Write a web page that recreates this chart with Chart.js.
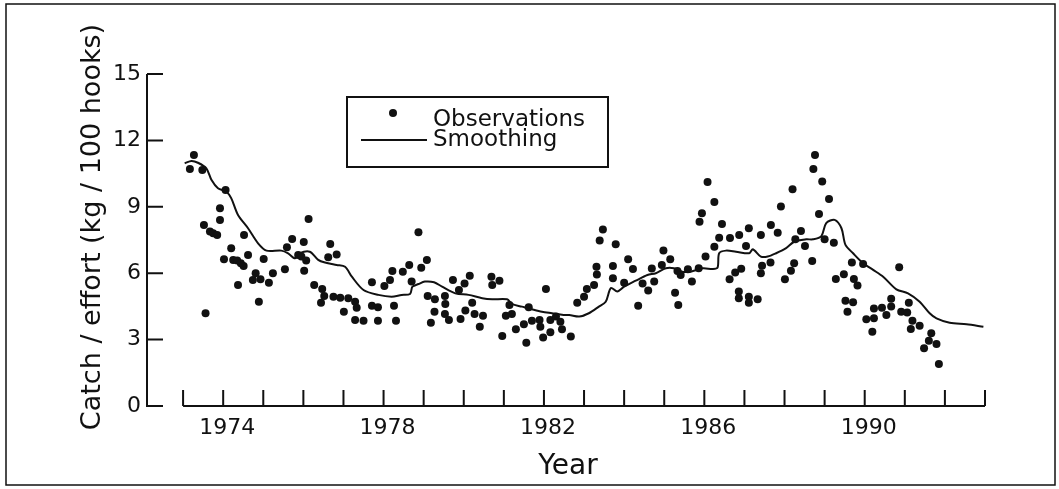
<!DOCTYPE html>
<html>
<head>
<meta charset="utf-8">
<title>Catch / effort</title>
<script src="https://cdn.jsdelivr.net/npm/chart.js@4/dist/chart.umd.min.js"></script>
<style>
  html, body { margin: 0; padding: 0; background: #fff; }
  #wrap { width: 1059px; height: 489px; }
</style>
</head>
<body>
<div id="wrap"><canvas id="cpue" width="1059" height="489"></canvas></div>
<script>
// Observations (year, kg / 100 hooks)
const obsYear = [
  1973.17, 1973.27, 1973.48, 1973.52, 1973.56, 1973.67, 1973.75, 1973.85, 1973.92, 1973.92,
  1974.02, 1974.06, 1974.20, 1974.25, 1974.35, 1974.37, 1974.44, 1974.51, 1974.52, 1974.62,
  1974.74, 1974.81, 1974.89, 1974.93, 1975.01, 1975.14, 1975.24, 1975.54, 1975.59, 1975.72,
  1975.87, 1975.95, 1976.01, 1976.02, 1976.07, 1976.13, 1976.27, 1976.44, 1976.47, 1976.52,
  1976.62, 1976.67, 1976.75, 1976.83, 1976.92, 1977.01, 1977.12, 1977.29, 1977.33, 1977.29,
  1977.50, 1977.71, 1977.71, 1977.86, 1977.86, 1978.02, 1978.16, 1978.22, 1978.26, 1978.31,
  1978.48, 1978.64, 1978.70, 1978.87, 1978.94, 1979.08, 1979.10, 1979.18, 1979.27, 1979.28,
  1979.53, 1979.54, 1979.53, 1979.63, 1979.73, 1979.88, 1979.92, 1980.02, 1980.04, 1980.15,
  1980.21, 1980.27, 1980.40, 1980.48, 1980.69, 1980.71, 1980.89, 1980.96, 1981.05, 1981.14,
  1981.20, 1981.30, 1981.50, 1981.56, 1981.62, 1981.70, 1981.89, 1981.91, 1981.98, 1982.05,
  1982.16, 1982.16, 1982.30, 1982.41, 1982.45, 1982.67, 1982.83, 1983.00, 1983.07, 1983.25,
  1983.31, 1983.32, 1983.39, 1983.47, 1983.72, 1983.72, 1983.79, 1984.00, 1984.10, 1984.22,
  1984.35, 1984.46, 1984.60, 1984.69, 1984.75, 1984.94, 1984.98, 1985.15, 1985.27, 1985.35,
  1985.33, 1985.41, 1985.59, 1985.69, 1985.86, 1985.88, 1985.94, 1986.03, 1986.08, 1986.25,
  1986.25, 1986.37, 1986.44, 1986.63, 1986.64, 1986.77, 1986.86, 1986.86, 1986.87, 1986.92,
  1987.04, 1987.11, 1987.11, 1987.11, 1987.33, 1987.41, 1987.44, 1987.41, 1987.65, 1987.66,
  1987.83, 1987.91, 1988.01, 1988.16, 1988.20, 1988.24, 1988.27, 1988.41, 1988.51, 1988.69,
  1988.72, 1988.76, 1988.86, 1988.94, 1989.00, 1989.11, 1989.23, 1989.28, 1989.48, 1989.52,
  1989.57, 1989.68, 1989.71, 1989.73, 1989.82, 1989.96, 1990.04, 1990.19, 1990.23, 1990.23,
  1990.43, 1990.54, 1990.66, 1990.66, 1990.86, 1990.91, 1991.06, 1991.10, 1991.15, 1991.19,
  1991.37, 1991.48, 1991.60, 1991.66, 1991.79, 1991.85
];
const obsValue = [
  10.71, 11.34, 10.66, 8.18, 4.19, 7.88, 7.80, 7.73, 8.93, 8.40,
  6.63, 9.76, 7.13, 6.60, 6.57, 5.47, 6.45, 6.33, 7.73, 6.82,
  5.69, 6.00, 4.71, 5.73, 6.64, 5.57, 6.00, 6.18, 7.17, 7.55,
  6.82, 6.75, 7.41, 6.11, 6.57, 8.45, 5.47, 4.67, 5.29, 4.97,
  6.72, 7.32, 4.94, 6.85, 4.89, 4.26, 4.87, 4.71, 4.44, 3.89,
  3.85, 5.59, 4.53, 4.46, 3.85, 5.42, 5.69, 6.10, 4.53, 3.85,
  6.06, 6.37, 5.62, 7.85, 6.25, 6.60, 4.97, 3.76, 4.26, 4.82,
  4.97, 4.61, 4.16, 3.89, 5.69, 5.24, 3.93, 5.54, 4.31, 5.89,
  4.67, 4.16, 3.58, 4.08, 5.84, 5.47, 5.66, 3.16, 4.08, 4.56,
  4.16, 3.47, 3.69, 2.86, 4.46, 3.85, 3.89, 3.58, 3.10, 5.29,
  3.33, 3.89, 4.04, 3.81, 3.47, 3.14, 4.67, 4.94, 5.29, 5.47,
  6.29, 5.94, 7.48, 7.98, 6.33, 5.77, 7.31, 5.57, 6.63, 6.19,
  4.53, 5.54, 5.22, 6.21, 5.62, 6.37, 7.02, 6.63, 5.12, 4.56,
  6.10, 5.92, 6.18, 5.63, 6.22, 8.33, 8.71, 6.76, 10.12, 9.22,
  7.20, 7.60, 8.22, 5.73, 7.59, 6.03, 5.17, 4.87, 7.73, 6.20,
  7.23, 4.94, 4.67, 8.03, 4.82, 7.73, 6.34, 6.00, 6.48, 8.18,
  7.83, 9.01, 5.73, 6.11, 9.79, 6.45, 7.53, 7.91, 7.23, 6.55,
  10.71, 11.34, 8.68, 10.14, 7.53, 9.35, 7.38, 5.74, 5.95, 4.76,
  4.26, 6.48, 4.69, 5.74, 5.44, 6.42, 3.92, 3.36, 4.41, 3.96,
  4.44, 4.11, 4.84, 4.49, 6.27, 4.26, 4.23, 4.67, 3.48, 3.85,
  3.63, 2.61, 2.95, 3.29, 2.80, 1.90
];

// Smoothing curve
const smoothYear = [
  1973.04, 1973.21, 1973.37, 1973.58, 1973.71, 1973.87, 1974.08, 1974.20, 1974.37, 1974.62,
  1974.87, 1975.08, 1975.45, 1975.62, 1975.79, 1975.91, 1976.16, 1976.37, 1976.54, 1976.83,
  1977.04, 1977.21, 1977.50, 1977.87, 1978.20, 1978.45, 1978.66, 1978.72, 1978.87, 1979.03,
  1979.26, 1979.46, 1979.79, 1980.12, 1980.46, 1980.71, 1981.08, 1981.20, 1981.45, 1981.70,
  1981.95, 1982.20, 1982.49, 1982.63, 1982.88, 1983.12, 1983.37, 1983.54, 1983.67, 1983.83,
  1984.00, 1984.29, 1984.58, 1984.79, 1985.04, 1985.24, 1985.45, 1985.66, 1985.96, 1986.21,
  1986.33, 1986.37, 1986.54, 1986.79, 1987.12, 1987.21, 1987.41, 1987.58, 1987.79, 1988.04,
  1988.24, 1988.54, 1988.71, 1988.92, 1989.04, 1989.25, 1989.42, 1989.52, 1989.71, 1989.96,
  1990.21, 1990.46, 1990.79, 1991.08, 1991.37, 1991.62, 1991.79, 1992.12, 1992.54, 1992.96
];
const smoothValue = [
  10.97, 11.07, 10.99, 10.74, 10.21, 9.84, 9.68, 9.39, 8.63, 8.03,
  7.35, 7.02, 7.02, 6.90, 6.67, 6.90, 6.97, 6.60, 6.48, 6.37,
  6.29, 5.84, 5.24, 5.02, 4.94, 5.02, 5.06, 5.39, 5.51, 5.62,
  5.59, 5.39, 5.09, 5.02, 4.87, 4.82, 4.82, 4.61, 4.49, 4.37,
  4.26, 4.19, 4.11, 4.11, 4.04, 4.19, 4.49, 4.71, 5.33, 5.17,
  5.39, 5.66, 5.92, 6.00, 6.22, 6.22, 6.07, 6.07, 6.22, 6.19,
  6.25, 6.90, 7.02, 6.97, 6.90, 7.08, 6.75, 6.75, 6.90, 7.13,
  7.42, 7.53, 7.53, 7.68, 8.26, 8.41, 8.03, 7.28, 6.90, 6.45,
  6.15, 5.84, 5.27, 5.09, 4.71, 4.19, 3.96, 3.76, 3.69, 3.58
];

// axes
const yTicks = [0, 3, 6, 9, 12, 15];
const xTickYears = [1973, 1974, 1975, 1976, 1977, 1978, 1979, 1980, 1981, 1982, 1983,
  1984, 1985, 1986, 1987, 1988, 1989, 1990, 1991, 1992, 1993];
const xLabelYears = [1974, 1978, 1982, 1986, 1990];
const yTitle = 'Catch / effort (kg / 100 hooks)';
const xTitle = 'Year';
const legendLabels = ['Observations', 'Smoothing'];

const ink = '#111';
Chart.defaults.font.family = '"DejaVu Sans", sans-serif';
Chart.defaults.color = ink;

// axis lines with inward ticks, titles, framed legend and the figure border
const figureFrame = {
  id: 'figureFrame',
  afterDraw(chart) {
    const { ctx, chartArea: a, scales: { x, y } } = chart;
    ctx.save();
    ctx.strokeStyle = ink;
    ctx.fillStyle = ink;
    ctx.lineCap = 'butt';

    ctx.lineWidth = 1.5;
    ctx.strokeRect(6, 4, 1049, 481);

    ctx.lineWidth = 2;
    ctx.beginPath();
    ctx.moveTo(a.left, y.getPixelForValue(yTicks[yTicks.length - 1]));
    ctx.lineTo(a.left, y.getPixelForValue(0) + 1);
    yTicks.forEach(v => {
      const py = y.getPixelForValue(v);
      ctx.moveTo(a.left, py);
      ctx.lineTo(a.left + 16, py);
    });
    const by = y.getPixelForValue(0);
    ctx.moveTo(x.getPixelForValue(xTickYears[0]), by);
    ctx.lineTo(x.getPixelForValue(xTickYears[xTickYears.length - 1]), by);
    xTickYears.forEach(v => {
      const px = x.getPixelForValue(v);
      ctx.moveTo(px, by);
      ctx.lineTo(px, by - 16);
    });
    ctx.stroke();

    // titles
    ctx.font = '27px "DejaVu Sans"';
    ctx.textAlign = 'center';
    ctx.textBaseline = 'alphabetic';
    ctx.save();
    ctx.translate(100, 227);
    ctx.rotate(-Math.PI / 2);
    ctx.fillText(yTitle, 0, 0);
    ctx.restore();
    ctx.font = '28px "DejaVu Sans"';
    ctx.fillText(xTitle, 568, 474);

    // legend
    ctx.lineWidth = 2;
    ctx.strokeRect(347, 97, 261, 70);
    ctx.beginPath();
    ctx.arc(393, 113, 4, 0, Math.PI * 2);
    ctx.fill();
    ctx.beginPath();
    ctx.moveTo(361, 140);
    ctx.lineTo(427, 140);
    ctx.stroke();
    ctx.font = '23px "DejaVu Sans"';
    ctx.textAlign = 'left';
    ctx.fillText(legendLabels[0], 433, 126);
    ctx.fillText(legendLabels[1], 433, 146);
    ctx.restore();
  }
};

new Chart(document.getElementById('cpue'), {
  type: 'scatter',
  data: {
    datasets: [
      {
        label: legendLabels[0],
        data: obsYear.map((yr, i) => ({ x: yr, y: obsValue[i] })),
        pointRadius: 4,
        pointBackgroundColor: ink,
        pointBorderWidth: 0
      },
      {
        label: legendLabels[1],
        data: smoothYear.map((yr, i) => ({ x: yr, y: smoothValue[i] })),
        showLine: true,
        pointRadius: 0,
        borderColor: ink,
        borderWidth: 2,
        tension: 0.3
      }
    ]
  },
  options: {
    responsive: false,
    animation: false,
    layout: { padding: { top: 74, right: 74, left: 0, bottom: 0 } },
    plugins: { legend: { display: false }, tooltip: { enabled: false } },
    scales: {
      x: {
        type: 'linear',
        min: 1972.1,
        max: 1993,
        afterFit: s => { s.height = 83; },
        afterBuildTicks: s => { s.ticks = xTickYears.map(v => ({ value: v })); },
        grid: { display: false, drawTicks: false },
        border: { display: false },
        ticks: {
          autoSkip: false, maxRotation: 0, padding: 9, labelOffset: 4,
          font: { size: 22 },
          callback: v => xLabelYears.includes(v) ? String(v) : ''
        }
      },
      y: {
        min: 0,
        max: 15,
        afterFit: s => { s.width = 147; },
        afterBuildTicks: s => { s.ticks = yTicks.map(v => ({ value: v })); },
        grid: { display: false, drawTicks: false },
        border: { display: false },
        ticks: { padding: 6, font: { size: 22 } }
      }
    }
  },
  plugins: [figureFrame]
});
</script>
</body>
</html>
